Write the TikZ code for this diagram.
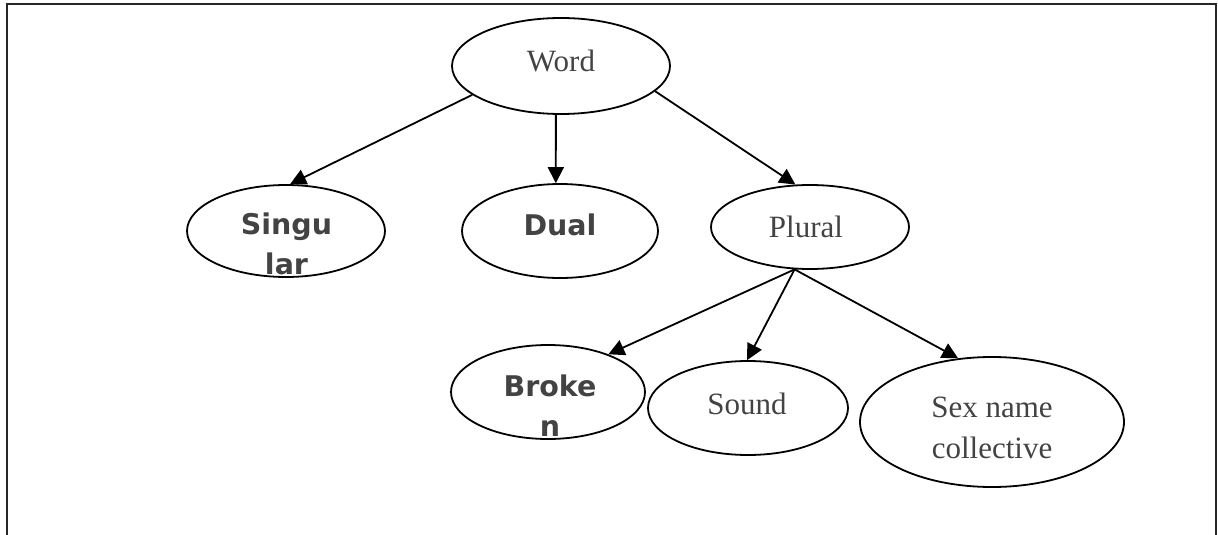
\documentclass[tikz,border=0pt]{standalone}
\usepackage{fontspec}
\setmainfont{Liberation Serif}
\newfontfamily\boldlab{DejaVu Sans}
\usetikzlibrary{shapes.geometric,arrows.meta}
\definecolor{txt}{RGB}{67,67,67}
\begin{document}
\begin{tikzpicture}[x=1pt,y=-1pt,
  oval/.style={draw=black,line width=1.8pt,ellipse,inner sep=0pt},
  serlab/.style={text=txt,font=\fontsize{31}{41}\selectfont,anchor=base,align=center,inner sep=0pt},
  boldlab/.style={text=txt,font=\boldlab\bfseries\fontsize{28.5}{40}\selectfont,anchor=base,align=center,inner sep=0pt},
  link/.style={draw=black,line width=1.8pt,-{Triangle[length=16pt,width=16pt]}},
  frame/.style={draw=black!85,line width=2pt}]
\useasboundingbox (0,0) rectangle (1218,535);
\draw[frame] (6.5,535) -- (6.5,4) -- (1216,4) -- (1216,535);
% ellipses
\node[oval,minimum width=218pt,minimum height=96pt] (word) at (561,66) {};
\node[oval,minimum width=198pt,minimum height=92pt] (sing) at (286,231) {};
\node[oval,minimum width=196pt,minimum height=94pt] (dual) at (560,231) {};
\node[oval,minimum width=198pt,minimum height=84pt] (plur) at (810,227) {};
\node[oval,minimum width=194pt,minimum height=94pt] (brok) at (548,392) {};
\node[oval,minimum width=200pt,minimum height=94pt] (sound) at (748,408) {};
\node[oval,minimum width=264pt,minimum height=130pt] (sex) at (992,422) {};
% labels (base anchor = baseline of last line)
\node[serlab] (wordt) at (561,72) {Word};
\node[boldlab] (singt) at (286.5,274) {Singu\\lar};
\node[boldlab] (dualt) at (560,235) {Dual};
\node[serlab] (plurt) at (806,237) {Plural};
\node[boldlab] (brokt) at (550,436) {Broke\\n};
\node[serlab] (soundt) at (747,414) {Sound};
\node[serlab] (sext) at (992,458) {Sex name\\collective};
% connectors
\draw[link] (word.198.8) -- (sing.85);
\draw[link] (word.264) -- (dual.95);
\draw[link] (word.345.5) -- (plur.109.6);
\draw[link] (plur.250.4) -- (brok.32);
\draw[link] (plur.250.4) -- (sound.91);
\draw[link] (plur.250.4) -- (sex.118.7);
\end{tikzpicture}
\end{document}
